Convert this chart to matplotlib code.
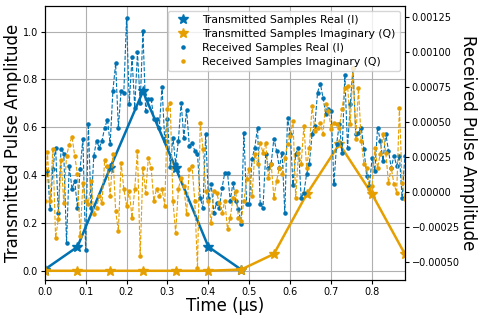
import numpy as np
import matplotlib
matplotlib.use("Agg")
import matplotlib.pyplot as plt
from matplotlib.lines import Line2D

BLUE = "#0072B2"
ORANGE = "#E69F00"

# transmitted symbols (one every 0.08 us)
tx_t_real = [0.0, 0.08, 0.16, 0.24, 0.32, 0.40, 0.48]
tx_real = [0.005, 0.10, 0.43, 0.75, 0.43, 0.10, 0.005]
tx_t_imag = [0.0, 0.08, 0.16, 0.24, 0.32, 0.40, 0.48, 0.56, 0.64, 0.72, 0.80, 0.88]
tx_imag = [0.0, 0.0, 0.0, 0.0, 0.0, 0.0, 0.005, 0.07, 0.32, 0.53, 0.32, 0.07]

# received samples, in units of 1e-4
rx_real_e4 = [
    1.36, 1.51, -1.22, 1.65, 3.16, -1.51, 3.09, 2.73, -3.66, 1.87,
    0.22, 0.79, -1.15, 1.65, 3.81, -4.16, 4.88, -1.15, 2.58, 3.66,
    3.16, 3.66, 4.60, 5.17, 3.45, 7.25, 9.19, 4.60, 7.25, 7.11,
    12.42, 6.32, 9.62, 6.03, 9.98, 6.39, 11.49, 5.82, 6.68, 6.68,
    5.24, 5.24, 4.60,
    7.54, 3.66, 5.24, 1.80, 3.88, 2.01, 3.66, 6.39, 3.88, 5.89,
    3.30, 3.52, 2.94, 2.73, -0.43, -1.15, 4.16, -0.43, 0.57, -1.51,
    -0.79, -1.15, 0.29, 1.36, 1.36, -0.65, 0.65, -0.65, -1.22, -2.30,
    4.24, -0.86, -0.86, 2.37, 3.16, 4.60, -0.86, -1.15, 2.73, 1.72,
    2.01, 3.81, 2.94, 1.72, 2.80, -1.51, 5.31,
    4.16, 0.50, 2.73, 3.16, -0.43, -0.07, 1.29, 2.01, 4.16, 4.74,
    7.11, 7.75, 6.75, 5.60, 5.96, 5.82, 0.57, 3.45, 4.88, 2.80,
    8.33, 3.16, 6.32, 8.90, 4.16, 4.24, 4.60, 3.09, 1.15, 0.43,
    2.44, 1.51, 4.60, 3.66, 2.23, 4.16, 2.94, 1.72, 2.58, 1.87,
    2.58, -0.43, 2.58,
]
rx_imag_e4 = [
    -0.65, 2.87, -0.65, 3.09, -3.30, -1.94, 2.30, -0.79, 2.58, 3.37,
    3.95, 2.58, 1.29, -3.16, 0.65, -0.65, -0.86, 0.79, -1.58, -1.15,
    -0.29, -0.79, 2.30, 1.87, -0.29, 2.73, -1.36, -2.80, 2.08, 0.22,
    -1.01, 0.07, -1.87, 0.22, 2.94, -4.60, 1.72, -0.07, 2.44, 1.72,
    -0.65, 0.22, -0.29,
    0.22, -1.01, 5.96, 6.39, -0.65, -2.94, 0.22, 1.01, 0.43, -1.58,
    1.65, 1.87, -0.65, -5.46, 4.95, 3.09, 0.07, -0.65, -2.23, 0.07,
    -0.07, -0.79, -1.51, -0.65, -2.66, -1.87, -0.43, 0.07, -1.87, -2.08,
    -0.65, 0.93, 1.65, -0.29, 2.73, 2.01, 3.52, 2.80, 3.52, 1.01,
    2.01, -0.43, 0.79, 1.72, 1.29, 2.44, 3.45, 4.02,
    5.10, -0.43, 2.80, 2.01, 4.74, 1.72, 3.16, 6.17, 4.38, 4.60,
    4.95, 4.16, 6.32, 5.82, 4.52, 4.95, 4.88, 4.60, 5.96, 7.40,
    7.61, 4.88, 8.83, 3.81, 7.40, 3.66, 2.01, 1.72, 0.22, 0.43,
    3.16, 1.72, 2.73, 4.16, 2.80, 0.65, 1.72, 0.57, -0.07, 6.03,
    0.65, -0.50,
]

rx_real = np.array(rx_real_e4) * 1e-4
rx_imag = np.array(rx_imag_e4) * 1e-4
rx_t = np.linspace(0, 0.88, len(rx_real))

fig = plt.figure(figsize=(4.78, 3.19), dpi=100)
fig.subplots_adjust(left=0.0935, right=0.847, top=0.981, bottom=0.122)
ax = fig.add_subplot(111)
ax2 = ax.twinx()

ax.plot(tx_t_real, tx_real, color=BLUE, lw=1.8, marker="*", ms=7)
ax.plot(tx_t_imag, tx_imag, color=ORANGE, lw=1.8, marker="*", ms=7)

ax2.plot(rx_t, rx_real, color=BLUE, ls="--", lw=0.8, marker=".", ms=4.5)
ax2.plot(rx_t, rx_imag, color=ORANGE, ls="--", lw=0.8, marker=".", ms=4.5)

ax.set_xlim(0, 0.88)
ax.set_ylim(-0.039, 1.107)
ax2.set_ylim(-0.000632, 0.00133)
ax.grid(True, color="#b0b0b0", lw=0.8)

ax.tick_params(labelsize=7, length=3, pad=2)
ax2.tick_params(labelsize=7, length=3, pad=2)
ax.set_xlabel("Time (µs)", fontsize=12, labelpad=0)
ax.set_ylabel("Transmitted Pulse Amplitude", fontsize=12, labelpad=0)
ax2.set_ylabel("Received Pulse Amplitude", fontsize=12, rotation=270, labelpad=12)

handles = [
    Line2D([], [], ls="none", marker="*", ms=7.5, color=BLUE),
    Line2D([], [], ls="none", marker="*", ms=7.5, color=ORANGE),
    Line2D([], [], ls="none", marker=".", ms=4.5, color=BLUE),
    Line2D([], [], ls="none", marker=".", ms=4.5, color=ORANGE),
]
labels = [
    "Transmitted Samples Real (I)",
    "Transmitted Samples Imaginary (Q)",
    "Received Samples Real (I)",
    "Received Samples Imaginary (Q)",
]
ax2.legend(handles, labels, loc="upper right", fontsize=7.8, labelspacing=0.35,
           borderaxespad=0.45)

fig.savefig("out.png", dpi=100)
